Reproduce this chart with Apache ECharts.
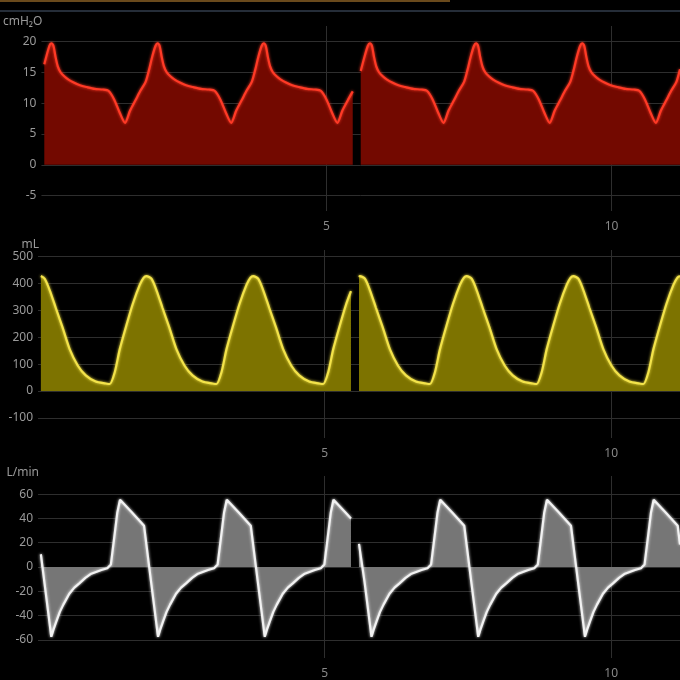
<!DOCTYPE html>
<html>
<head>
<meta charset="utf-8">
<script src="https://cdn.jsdelivr.net/npm/echarts@6/dist/echarts.min.js"></script>
<style>
html,body{margin:0;padding:0;background:#000;}
#chart{width:680px;height:680px;}
</style>
</head>
<body>
<div id="chart"></div>
<script>
// Time axis ticks (s)
var xTicks = [5, 10];
var axisNames = ['cmH\u2082O', 'mL', 'L/min'];

// Pressure (cmH2O) [time s, value]
var pressureData = [
  [0.05,16.3],[0.14,19.3],[0.175,19.7],[0.21,19.3],[0.245,17.6],[0.285,16.0],[0.335,15.0],[0.405,14.3],[0.475,13.8],[0.575,13.3],[0.675,12.9],[0.795,12.6],[0.935,12.3],[1.075,12.2],[1.175,12.0],[1.275,10.6],[1.375,8.4],[1.466,6.8],[1.555,8.8],[1.652,10.5],[1.735,12.0],[1.825,13.4],[1.885,15.3],[1.945,17.6],[2.002,19.3],
  [2.037,19.7],[2.072,19.3],[2.107,17.6],[2.147,16.0],[2.197,15.0],[2.267,14.3],[2.337,13.8],[2.437,13.3],[2.537,12.9],[2.657,12.6],[2.797,12.3],[2.937,12.2],[3.037,12.0],[3.137,10.6],[3.237,8.4],[3.328,6.8],[3.417,8.8],[3.514,10.5],[3.597,12.0],[3.687,13.4],[3.747,15.3],[3.807,17.6],[3.864,19.3],
  [3.899,19.7],[3.934,19.3],[3.969,17.6],[4.009,16.0],[4.059,15.0],[4.129,14.3],[4.199,13.8],[4.299,13.3],[4.399,12.9],[4.519,12.6],[4.659,12.3],[4.799,12.2],[4.899,12.0],[4.999,10.6],[5.099,8.4],[5.19,6.8],[5.279,8.8],[5.376,10.5],[5.46,11.9],
  [5.53,null],
  [5.60,15.2],[5.669,17.6],[5.726,19.3],
  [5.761,19.7],[5.796,19.3],[5.831,17.6],[5.871,16.0],[5.921,15.0],[5.991,14.3],[6.061,13.8],[6.161,13.3],[6.261,12.9],[6.381,12.6],[6.521,12.3],[6.661,12.2],[6.761,12.0],[6.861,10.6],[6.961,8.4],[7.052,6.8],[7.141,8.8],[7.238,10.5],[7.321,12.0],[7.411,13.4],[7.471,15.3],[7.531,17.6],[7.588,19.3],
  [7.623,19.7],[7.658,19.3],[7.693,17.6],[7.733,16.0],[7.783,15.0],[7.853,14.3],[7.923,13.8],[8.023,13.3],[8.123,12.9],[8.243,12.6],[8.383,12.3],[8.523,12.2],[8.623,12.0],[8.723,10.6],[8.823,8.4],[8.914,6.8],[9.003,8.8],[9.1,10.5],[9.183,12.0],[9.273,13.4],[9.333,15.3],[9.393,17.6],[9.45,19.3],
  [9.485,19.7],[9.52,19.3],[9.555,17.6],[9.595,16.0],[9.645,15.0],[9.715,14.3],[9.785,13.8],[9.885,13.3],[9.985,12.9],[10.105,12.6],[10.245,12.3],[10.385,12.2],[10.485,12.0],[10.585,10.6],[10.685,8.4],[10.776,6.8],[10.865,8.8],[10.962,10.5],[11.045,12.0],[11.135,13.4],[11.2,15.5]
];

// Volume (mL) [time s, value]
var volumeData = [
  [0.05,428],[0.117,418],[0.205,375],[0.309,310],[0.431,235],[0.554,155],[0.693,95],[0.833,58],[1.007,35],[1.182,28],[1.252,26],[1.339,70],[1.426,155],[1.54,243],[1.653,324],[1.775,395],[1.845,422],
  [1.892,428],[1.979,418],[2.067,375],[2.171,310],[2.293,235],[2.416,155],[2.555,95],[2.695,58],[2.869,35],[3.044,28],[3.114,26],[3.201,70],[3.288,155],[3.402,243],[3.515,324],[3.637,395],[3.707,422],
  [3.754,428],[3.841,418],[3.929,375],[4.033,310],[4.155,235],[4.278,155],[4.417,95],[4.557,58],[4.731,35],[4.906,28],[4.976,26],[5.063,70],[5.15,155],[5.264,243],[5.377,324],[5.46,372],
  [5.53,null],
  [5.60,425],
  [5.616,428],[5.703,418],[5.791,375],[5.895,310],[6.017,235],[6.14,155],[6.279,95],[6.419,58],[6.593,35],[6.768,28],[6.838,26],[6.925,70],[7.012,155],[7.126,243],[7.239,324],[7.361,395],[7.431,422],
  [7.478,428],[7.565,418],[7.653,375],[7.757,310],[7.879,235],[8.002,155],[8.141,95],[8.281,58],[8.455,35],[8.63,28],[8.7,26],[8.787,70],[8.874,155],[8.988,243],[9.101,324],[9.223,395],[9.293,422],
  [9.34,428],[9.427,418],[9.515,375],[9.619,310],[9.741,235],[9.864,155],[10.003,95],[10.143,58],[10.317,35],[10.492,28],[10.562,26],[10.649,70],[10.736,155],[10.85,243],[10.963,324],[11.085,395],[11.155,422],[11.2,428]
];

// Flow (L/min) [time s, value]
var flowData = [
  [0.05,10.5],[0.11,-12],[0.232,-57.5],[0.267,-52],[0.319,-45],[0.381,-37],[0.442,-31],[0.546,-22],[0.634,-17],[0.721,-13.5],[0.826,-9],[0.93,-5.5],[1.105,-2.5],[1.209,-1],[1.271,2],[1.332,25],[1.384,45],
  [1.431,55.5],[1.64,45],[1.85,34],[1.972,-12],[2.094,-57.5],[2.129,-52],[2.181,-45],[2.243,-37],[2.304,-31],[2.408,-22],[2.496,-17],[2.583,-13.5],[2.688,-9],[2.792,-5.5],[2.967,-2.5],[3.071,-1],[3.133,2],[3.194,25],[3.246,45],
  [3.293,55.5],[3.502,45],[3.712,34],[3.834,-12],[3.956,-57.5],[3.991,-52],[4.043,-45],[4.105,-37],[4.166,-31],[4.27,-22],[4.358,-17],[4.445,-13.5],[4.55,-9],[4.654,-5.5],[4.829,-2.5],[4.933,-1],[4.995,2],[5.056,25],[5.108,45],
  [5.155,55.5],[5.364,45],[5.46,40],
  [5.53,null],
  [5.60,19],[5.696,-12],[5.818,-57.5],[5.853,-52],[5.905,-45],[5.967,-37],[6.028,-31],[6.132,-22],[6.22,-17],[6.307,-13.5],[6.412,-9],[6.516,-5.5],[6.691,-2.5],[6.795,-1],[6.857,2],[6.918,25],[6.97,45],
  [7.017,55.5],[7.226,45],[7.436,34],[7.558,-12],[7.68,-57.5],[7.715,-52],[7.767,-45],[7.829,-37],[7.89,-31],[7.994,-22],[8.082,-17],[8.169,-13.5],[8.274,-9],[8.378,-5.5],[8.553,-2.5],[8.657,-1],[8.719,2],[8.78,25],[8.832,45],
  [8.879,55.5],[9.088,45],[9.298,34],[9.42,-12],[9.542,-57.5],[9.577,-52],[9.629,-45],[9.691,-37],[9.752,-31],[9.856,-22],[9.944,-17],[10.031,-13.5],[10.136,-9],[10.24,-5.5],[10.415,-2.5],[10.519,-1],[10.581,2],[10.642,25],[10.694,45],
  [10.741,55.5],[10.95,45],[11.16,34],[11.2,18.5]
];

var chart = echarts.init(document.getElementById('chart'), null, {renderer: 'canvas'});
var gridColor = '#2e2e2e';
var labelColor = '#9a9a9a';
var font = 'Noto Sans';

function xAxisFor(i) {
  return {
    gridIndex: i, type: 'value', min: 0, max: 11.2, interval: 5,
    axisLine: {show: false}, axisTick: {show: false},
    axisLabel: {color: '#888888', fontSize: 12, fontFamily: font, margin: 10, showMinLabel: false, showMaxLabel: false,
      formatter: function (v) { return xTicks.indexOf(v) >= 0 ? String(v) : ''; }},
    splitLine: {show: true, showMinLine: false, showMaxLine: false, lineStyle: {color: gridColor, width: 1}}
  };
}
function yAxisFor(i, min, max, split, gap) {
  return {
    gridIndex: i, type: 'value', min: min, max: max, splitNumber: split,
    name: axisNames[i], nameLocation: 'end', nameGap: gap,
    nameTextStyle: {color: labelColor, fontSize: 12, fontFamily: font, align: 'right', verticalAlign: 'middle', padding: [0, -1, 0, 0]},
    axisLine: {show: false}, axisTick: {show: false},
    axisLabel: {color: labelColor, fontSize: 12, fontFamily: font, margin: 5, showMinLabel: false, showMaxLabel: false},
    splitLine: {show: true, showMinLine: false, showMaxLine: false, lineStyle: {color: gridColor, width: 1}}
  };
}
function series(i, data, lineColor, fillColor) {
  return {
    type: 'line', xAxisIndex: i, yAxisIndex: i, data: data,
    showSymbol: false, smooth: i === 2 ? false : 0.25, connectNulls: false,
    lineStyle: {color: lineColor, width: 2.2, shadowColor: lineColor, shadowBlur: 3},
    areaStyle: {color: fillColor, opacity: 1},
    silent: true
  };
}

chart.setOption({
  backgroundColor: '#000000',
  animation: false,
  graphic: [
    {type: 'rect', shape: {x: 0, y: 0, width: 450, height: 2}, style: {fill: '#6a4a1c'}},
    {type: 'rect', shape: {x: 0, y: 10, width: 680, height: 2}, style: {fill: '#252d38'}}
  ],
  grid: [
    {left: 38, right: 0, top: 26, height: 185},
    {left: 38, right: 0, top: 250, height: 188},
    {left: 38, right: 0, top: 476, height: 188}
  ],
  xAxis: [xAxisFor(0), xAxisFor(1), xAxisFor(2)],
  yAxis: [
    yAxisFor(0, -7.5, 22.5, 6, 4),
    yAxisFor(1, -175, 525, 7, 4),
    yAxisFor(2, -75, 75, 7, 3)
  ],
  series: [
    series(0, pressureData, '#ff3a26', '#730900'),
    series(1, volumeData, '#f3e34a', '#7d7300'),
    series(2, flowData, '#f2f2f2', '#767676')
  ]
});
</script>
</body>
</html>
